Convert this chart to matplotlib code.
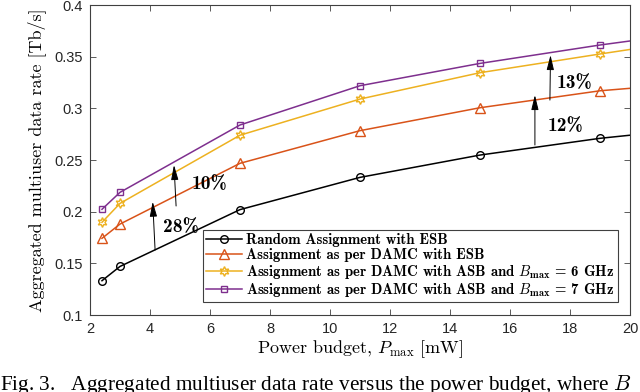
import numpy as np
import matplotlib
matplotlib.use('Agg')
import matplotlib.pyplot as plt

plt.rcParams['mathtext.fontset'] = 'cm'
plt.rcParams['axes.unicode_minus'] = False

# datos
potencia = [2.4, 3, 7, 11, 15, 19, 20]
aleatorio = [0.1332, 0.147, 0.202, 0.2332, 0.2548, 0.271, 0.274]
damc_esb = [0.1742, 0.188, 0.2468, 0.2784, 0.3006, 0.317, 0.3194]
damc_asb6 = [0.1897, 0.208, 0.274, 0.309, 0.3345, 0.3526, 0.357]
damc_asb7 = [0.2023, 0.2187, 0.2839, 0.3219, 0.3435, 0.3613, 0.3652]

etiquetas = ['Random Assignment with ESB',
             'Assignment as per DAMC with ESB',
             r'Assignment as per DAMC with ASB and $B_{\mathbf{max}}$ = 6 GHz',
             r'Assignment as per DAMC with ASB and $B_{\mathbf{max}}$ = 7 GHz']

# flechas: (x base, y base, x punta, y punta, texto, x texto, y texto)
flechas = [(4.17, 0.1629, 4.09, 0.2097, '28%', 4.43, 0.1855),
           (4.87, 0.2055, 4.80, 0.2452, '10%', 5.38, 0.2264),
           (16.83, 0.2645, 16.83, 0.3129, '12%', 17.27, 0.2826),
           (17.33, 0.3080, 17.35, 0.3516, '13%', 17.55, 0.3242)]

colores = ['#000000', '#D95319', '#EDB120', '#7E2F8E']
marcadores = ['o', '^', (6, 1, 0), 's']
tamanos = [5.5, 6.5, 7, 5]
series = [aleatorio, damc_esb, damc_asb6, damc_asb7]

fig = plt.figure(figsize=(6.4, 3.92), dpi=100)
ax = fig.add_axes([0.1406, 0.1964, 0.8438, 0.7908])

for y, c, m, s, lab in zip(series, colores, marcadores, tamanos, etiquetas):
    ax.plot(potencia, y, color=c, marker=m, markersize=s, mfc='none',
            mew=1.0, lw=1.1, markevery=[0, 1, 2, 3, 4, 5], label=lab)

for xb, yb, xt, yt, txt, xx, yy in flechas:
    ax.annotate('', xy=(xt, yt), xytext=(xb, yb),
                arrowprops=dict(arrowstyle='-|>,head_length=0.9,head_width=0.22',
                                mutation_scale=10, color='black', lw=0.7,
                                shrinkA=0, shrinkB=0))
    ax.text(xx, yy, txt, family='cmb10', fontsize=14, va='center', ha='left')

ax.set_xlim(2, 20)
ax.set_ylim(0.1, 0.4)
ax.set_xticks(np.arange(2, 21, 2))
ax.set_yticks([0.1, 0.15, 0.2, 0.25, 0.3, 0.35, 0.4])
ax.set_yticklabels(['0.1', '0.15', '0.2', '0.25', '0.3', '0.35', '0.4'])
ax.tick_params(direction='in', length=4, width=0.6, top=True, right=True,
               colors='#404040', labelsize=10.5, pad=5)
for lab in ax.get_xticklabels() + ax.get_yticklabels():
    lab.set_family('Liberation Sans')
    lab.set_color('#262626')
for sp in ax.spines.values():
    sp.set_color('#404040')
    sp.set_linewidth(0.8)

ax.set_xlabel(r'Power budget, $P_{\max}$ [mW]', family='cmr10', fontsize=13, labelpad=2)
ax.set_ylabel('Aggregated multiuser data rate [Tb/s]', family='cmr10', fontsize=13, labelpad=6)

leg = ax.legend(loc='lower right', prop={'family': 'cmb10', 'size': 10.6},
                fancybox=False, edgecolor='#404040', framealpha=1,
                borderaxespad=0.85, labelspacing=0.04, handlelength=2.4,
                handletextpad=0.3, borderpad=0.22)
leg.get_frame().set_linewidth(0.8)

fig.text(0.0, 2.0 / 392, r'Fig. 3.   Aggregated multiuser data rate versus the power budget, where $B$',
         family='Liberation Serif', fontsize=15.3, va='baseline', ha='left')

fig.savefig('out.png', dpi=100)
